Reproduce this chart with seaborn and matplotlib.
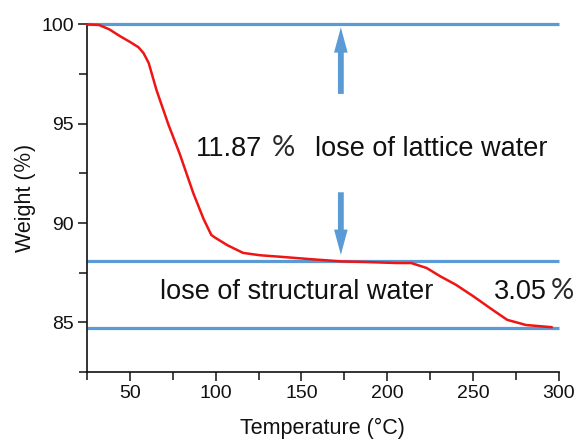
import numpy as np
import pandas as pd
import seaborn as sns
import matplotlib
matplotlib.use("Agg")
import matplotlib.pyplot as plt
from matplotlib.ticker import MultipleLocator

# ---- data ----
temperature = [25, 32, 38, 44, 50, 55, 58, 61, 65.5, 72.5, 79, 87, 93, 97.5, 100,
               107, 116, 126, 137, 156, 173.5, 188.5, 205.5, 214, 223, 231, 240,
               250.5, 261.5, 270, 281, 296]
weight = [100, 99.97, 99.75, 99.42, 99.12, 98.85, 98.55, 98.05, 96.7, 94.95, 93.5,
          91.5, 90.2, 89.4, 89.25, 88.88, 88.5, 88.38, 88.31, 88.18, 88.07, 88.04,
          87.99, 87.99, 87.74, 87.32, 86.9, 86.3, 85.63, 85.13, 84.87, 84.76]
levels = [100, 88.08, 84.73]
x_ticks = [50, 100, 150, 200, 250, 300]
y_ticks = [85, 90, 95, 100]
arrow_x = 173
up_arrow = (96.5, 99.85)     # from, to
down_arrow = (91.55, 88.4)   # from, to

sns.set_theme(style="ticks")
plt.rcParams["font.family"] = ["Liberation Sans", "Noto Sans CJK SC", "DejaVu Sans"]

RED = "#f01414"
BLUE = "#5b9bd5"
INK = "#111111"

fig = plt.figure(figsize=(5.76, 4.43), dpi=100)
ax = fig.add_subplot(111)
fig.subplots_adjust(left=0.151, right=0.970, bottom=0.160, top=0.945)

df = pd.DataFrame({"Temperature": temperature, "Weight": weight})

for lv in levels:
    ax.hlines(lv, 25, 300, color=BLUE, lw=2.3, clip_on=False, zorder=2)

sns.lineplot(data=df, x="Temperature", y="Weight", ax=ax, color=RED, lw=1.8,
             zorder=3, clip_on=False)

arrow_style = "simple,head_length=1.3,head_width=0.7,tail_width=0.3"
ax.annotate("", xy=(arrow_x, up_arrow[1]), xytext=(arrow_x, up_arrow[0]),
            arrowprops=dict(arrowstyle=arrow_style, mutation_scale=14, color=BLUE,
                            lw=0, shrinkA=0, shrinkB=0))
ax.annotate("", xy=(arrow_x, down_arrow[1]), xytext=(arrow_x, down_arrow[0]),
            arrowprops=dict(arrowstyle=arrow_style, mutation_scale=14, color=BLUE,
                            lw=0, shrinkA=0, shrinkB=0))

fs = 19.5
pct_font = dict(fontsize=21, va="baseline", ha="left", color="#2a2a2a",
                fontweight="normal", family=["Lato", "DejaVu Sans"])
ax.text(88.5, 93.4, "11.87", fontsize=fs, va="baseline", ha="left", color=INK)
ax.text(133, 93.4, "%", **pct_font)
ax.text(158, 93.4, "lose of lattice water", fontsize=fs, va="baseline", ha="left", color=INK)
ax.text(67.5, 86.2, "lose of structural water", fontsize=fs, va="baseline", ha="left", color=INK)
ax.text(262.5, 86.2, "3.05", fontsize=fs, va="baseline", ha="left", color=INK, clip_on=False)
ax.text(295.5, 86.2, "%", clip_on=False, **pct_font)

ax.set_xlim(25, 300)
ax.set_ylim(82.5, 100)
ax.set_xticks(x_ticks)
ax.set_yticks(y_ticks)
ax.xaxis.set_minor_locator(MultipleLocator(25))
ax.yaxis.set_minor_locator(MultipleLocator(2.5))
ax.tick_params(which="major", length=6.5, width=1.1, direction="out", labelsize=14,
               pad=3, color=INK, labelcolor=INK)
ax.tick_params(which="minor", length=5.5, width=1.1, direction="out", color=INK)
sns.despine(ax=ax)
for s in ["left", "bottom"]:
    ax.spines[s].set_linewidth(1.2)
    ax.spines[s].set_color(INK)

ax.set_xlabel("Temperature (°C)", fontsize=15.5, labelpad=11, color=INK)
ax.set_ylabel("Weight (％)", fontsize=15.5, labelpad=4, color=INK)

fig.savefig("out.png", dpi=100)
